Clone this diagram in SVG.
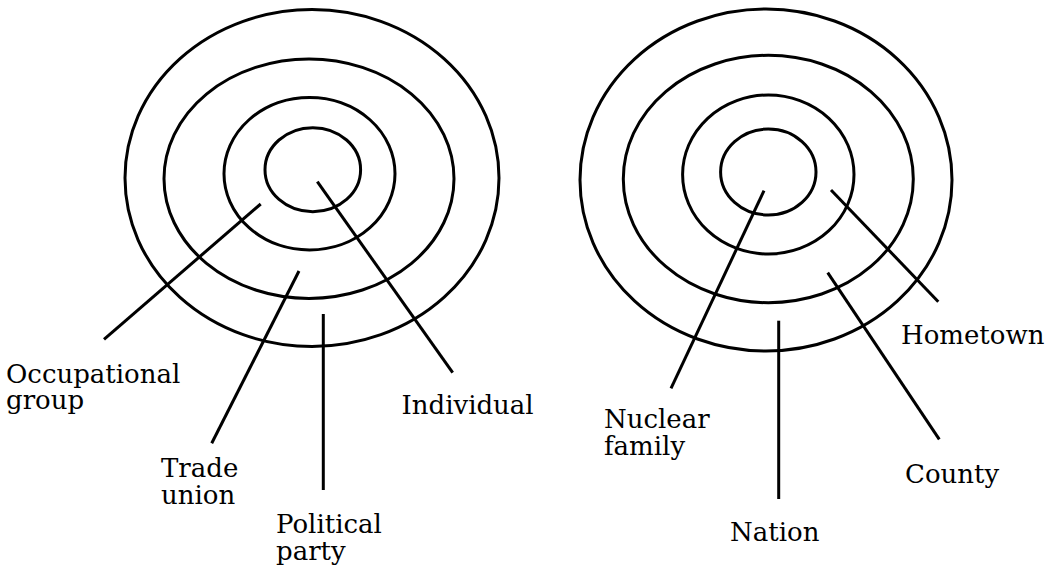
<svg xmlns="http://www.w3.org/2000/svg" width="1053" height="569" viewBox="0 0 1053 569">
<style>
.ring{fill:none;stroke:#000;stroke-width:3}
.conn line{stroke:#000;stroke-width:3}
text{font-family:"DejaVu Serif","Liberation Serif",serif;font-size:26px;fill:#000}
</style>
<rect width="1053" height="569" fill="#fff"/>
<g id="left-rings">
<ellipse id="political-party" class="ring" cx="312" cy="178" rx="187" ry="168.5"/>
<ellipse id="trade-union" class="ring" cx="309" cy="178.7" rx="145" ry="119.7"/>
<ellipse id="occupational-group" class="ring" cx="309.5" cy="173.7" rx="85.5" ry="76.3"/>
<ellipse id="individual" class="ring" cx="312.8" cy="169.7" rx="47.8" ry="42"/>
</g>
<g id="right-rings">
<ellipse id="nation" class="ring" cx="766" cy="180" rx="186" ry="171"/>
<ellipse id="county" class="ring" cx="768.3" cy="179" rx="145" ry="123.7"/>
<ellipse id="hometown" class="ring" cx="768.3" cy="174.5" rx="85.7" ry="79.5"/>
<ellipse id="nuclear-family" class="ring" cx="768.3" cy="172" rx="47.7" ry="43"/>
</g>
<g id="connectors" class="conn">
<line x1="260.7" y1="204" x2="104" y2="339.3"/>
<line x1="299" y1="271" x2="211.7" y2="443.3"/>
<line x1="323.3" y1="314" x2="323.3" y2="490"/>
<line x1="317.3" y1="181.7" x2="452.7" y2="372.7"/>
<line x1="764" y1="190.7" x2="671" y2="388.3"/>
<line x1="778.7" y1="320.7" x2="778.7" y2="499"/>
<line x1="827.7" y1="272.7" x2="939.3" y2="439.3"/>
<line x1="831" y1="190" x2="938.3" y2="301.7"/>
</g>
<g id="labels">
<text x="6" y="382.7">Occupational<tspan x="6" dy="26.4">group</tspan></text>
<text x="161" y="477">Trade<tspan x="161" dy="27">union</tspan></text>
<text x="276" y="533.3">Political<tspan x="276" dy="26.2">party</tspan></text>
<text x="401.5" y="414.3">Individual</text>
<text x="604" y="428.3">Nuclear<tspan x="604" dy="26.7">family</tspan></text>
<text x="730" y="541">Nation</text>
<text x="905" y="482.5">County</text>
<text x="901" y="344">Hometown</text>
</g>
</svg>
